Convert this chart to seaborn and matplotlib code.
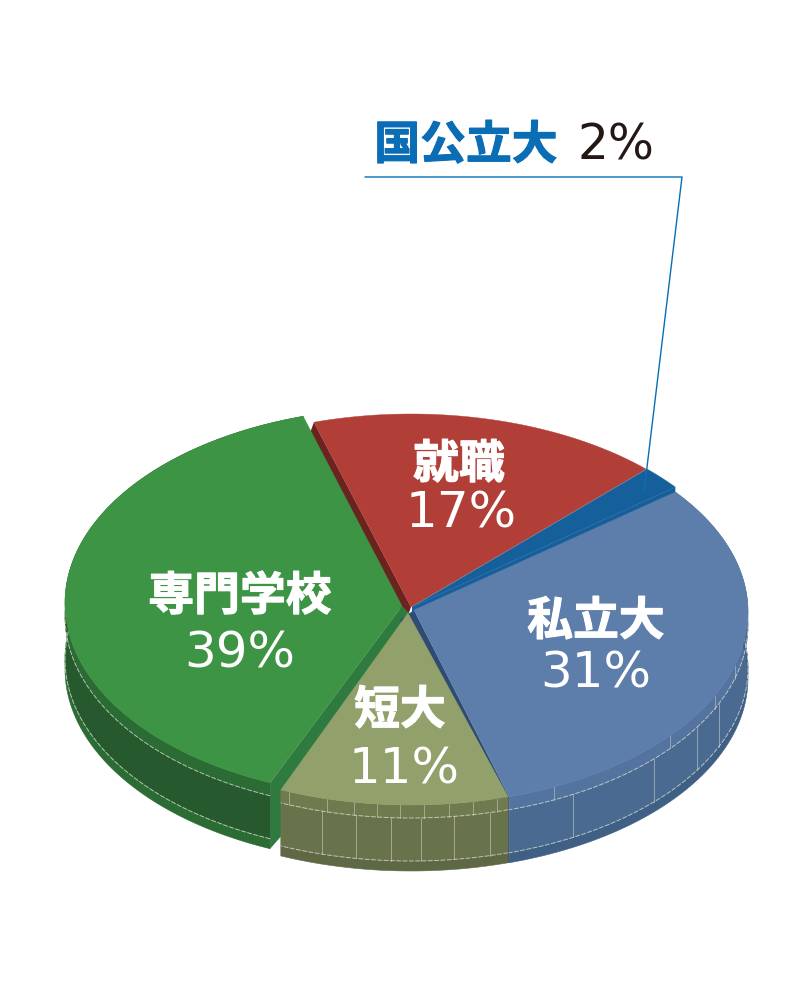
import numpy as np
import matplotlib
matplotlib.use("Agg")
import matplotlib.pyplot as plt
import matplotlib.patheffects as pe
import seaborn as sns

categories = ["就職", "国公立大", "私立大", "短大", "専門学校"]
shares = [17, 2, 31, 11, 39]
share_labels = ["17%", "2%", "31%", "11%", "39%"]

top_colors = ["#b23e38", "#15609b", "#5d7dab", "#92a06b", "#3d9444"]
bevel_colors = ["#6b2320", "#15609b", "#54749f", "#6f7b4f", "#2b6c35"]
wall_colors = ["#6b2320", "#15609b", "#4a6a91", "#68724b", "#265a2e"]
foot_colors = ["#6b2320", "#15609b", "#3f5f85", "#5f6844", "#2b6c35"]

wedge_x = [411, 412, 412, 411, 400]
wedge_y = [607, 607, 612, 612, 603]
tip_x = [411, 412, 414, 408, 402]
tip_y = [607, 607, 610, 613, 606]

wall_ticks = {2: [0.56, 0.63, 0.737, 0.894], 3: [0.08, 0.24, 0.38, 0.51, 0.66, 0.81], 4: [0.92, 0.977]}
bevel_ticks = {2: [0.49, 0.575, 0.70, 0.926], 3: [0.05, 0.157, 0.26, 0.37, 0.47, 0.57, 0.67, 0.79, 0.96],
               4: [0.815, 0.867, 0.909, 0.949, 0.985]}

RX, RY = 336, 193
BEVEL, WALL, DEPTH = 13, 56, 66
START = 106.8

sns.set_theme(style="white")
plt.rcParams['font.family'] = ['Noto Sans CJK JP', 'DejaVu Sans']

fig, ax = plt.subplots(figsize=(8, 10), dpi=100)
ax.set_position([0, 0, 1, 1])
ax.set_xlim(0, 800)
ax.set_ylim(1000, 0)
ax.axis("off")

ends = START - np.cumsum(shares) * 3.6
starts = np.r_[START, ends[:-1]]


def arc(i, a0, a1, drop=0.0):
    t = np.radians(np.linspace(a0, a1, 160))
    rx = 335 if i == 4 else RX
    ry = 195 if i == 4 else RY
    return wedge_x[i] + rx * np.cos(t), wedge_y[i] - ry * np.sin(t) + drop


def band(i, a0, a1, d0, d1, color, z):
    x0, y0 = arc(i, a0, a1, d0)
    x1, y1 = arc(i, a0, a1, d1)
    ax.fill(np.r_[x0, x1[::-1]], np.r_[y0, y1[::-1]], color=color, lw=0.4, zorder=z)


def outer(i, z):
    a0, a1 = starts[i], ends[i]
    band(i, a0, a1, 0, BEVEL, bevel_colors[i], z)
    band(i, a0, a1, BEVEL, WALL, wall_colors[i], z)
    band(i, a0, a1, WALL, DEPTH, foot_colors[i], z)
    for d in (BEVEL, WALL):
        x, y = arc(i, a0, a1, d)
        ax.plot(x, y, color="#dfe3d8", lw=0.7, ls=(0, (5, 1.5)), alpha=0.75, zorder=z + 0.1)
    span = a1 - a0
    for f in wall_ticks.get(i, []):
        x, y = arc(i, a0 + f * span, a0 + f * span)
        ax.plot([x[0], x[0]], [y[0] + BEVEL, y[0] + WALL], color="#dfe3d8", lw=0.7, alpha=0.5, zorder=z + 0.1)
    for f in bevel_ticks.get(i, []):
        x, y = arc(i, a0 + f * span, a0 + f * span)
        ax.plot([x[0], x[0]], [y[0], y[0] + BEVEL], color="#dfe3d8", lw=0.7, alpha=0.45, zorder=z + 0.1)


def top(i, z):
    x, y = arc(i, starts[i], ends[i])
    ax.fill(np.r_[tip_x[i], x], np.r_[tip_y[i], y], color=top_colors[i], lw=0.3, zorder=z)


def cut_face(i, a, offsets, color, z):
    # strip seen on a slice's straight side, offsets are taken from its rim corner
    x, y = arc(i, a, a)
    px = [tip_x[i], x[0]] + [x[0] + o[0] for o in offsets] + [tip_x[i] + offsets[-1][0]]
    py = [tip_y[i], y[0]] + [y[0] + o[1] for o in offsets] + [tip_y[i] + offsets[-1][1]]
    ax.fill(px, py, color=color, lw=0, zorder=z)


# back pieces first, the olive slice sits in front of them
cut_face(0, starts[0], [(-5, 14)], "#6b2320", 1)
cut_face(1, ends[1], [(0, 7)], "#15609b", 2.5)
cut_face(4, starts[4], [(0, DEPTH), (14, 50), (14, 14)], "#2f7a3e", 1)
cut_face(2, ends[2], [(0, DEPTH), (-14, DEPTH), (-14, 10)], "#2f4b72", 1)
outer(4, 2)
outer(2, 2)
top(0, 3)
top(1, 3)
top(2, 4)
top(4, 4)
outer(3, 5)
top(3, 6)

pct_font = ['DejaVu Sans']
label_pos = {0: (459, 465, 461, 514), 2: (596, 622, 596, 674), 3: (400, 711, 404, 770), 4: (240, 597, 240, 654)}
for i, (lx, ly, px, py) in label_pos.items():
    ax.text(lx, ly, categories[i], color="white", fontsize=33, fontweight="bold", ha="center", va="center",
            zorder=8, path_effects=[pe.withStroke(linewidth=0.8, foreground="white")])
    ax.text(px, py, share_labels[i], color="white", fontsize=36, family=pct_font, ha="center", va="center", zorder=8)

# callout for the small slice
ax.text(466, 146, categories[1], color="#0a6db5", fontsize=33, fontweight="bold", ha="center", va="center",
        path_effects=[pe.withStroke(linewidth=0.8, foreground="#0a6db5")])
ax.text(616, 145, share_labels[1], color="#231815", fontsize=35, family=pct_font, ha="center", va="center")
ax.plot([365, 682, 644], [177, 177, 492], color="#0a6db5", lw=1, zorder=9)

fig.savefig("out.png", dpi=100, facecolor="white")
